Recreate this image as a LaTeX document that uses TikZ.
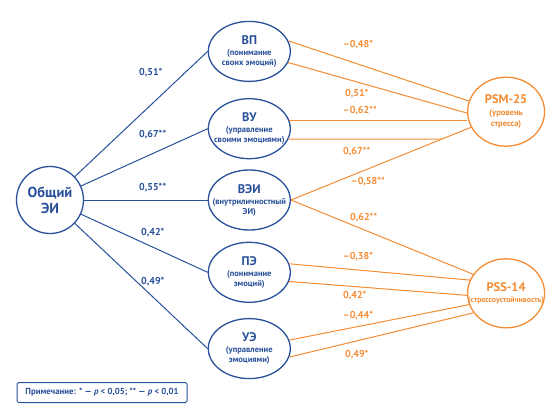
\documentclass[tikz,border=0pt]{standalone}
\usepackage{fontspec}
\setmainfont{PT Sans}
\usetikzlibrary{positioning,shapes.geometric,intersections}

\definecolor{eiblue}{RGB}{40,80,155}
\definecolor{psorange}{RGB}{244,140,52}

\newcommand{\ellhead}[1]{{\fontsize{12.5}{14}\selectfont #1}}

\tikzset{
  ei_circle/.style={circle, draw=eiblue, line width=1.3pt, text=eiblue, fill=white,
    minimum size=67pt, inner sep=1pt, align=center,
    font=\bfseries\fontsize{14.5}{16}\selectfont},
  ei_ell/.style={ellipse, draw=eiblue, line width=1.3pt, text=eiblue, fill=white,
    minimum width=82pt, minimum height=60pt, inner xsep=-42pt, inner ysep=0pt,
    align=center, font=\bfseries\fontsize{8.5}{10}\selectfont},
  ps_ell/.style={ellipse, draw=psorange, line width=1.3pt, text=psorange, fill=white,
    minimum width=77pt, minimum height=69pt, inner xsep=-42pt, inner ysep=0pt,
    align=center, font=\bfseries\fontsize{8.5}{11}\selectfont},
  ei_edge/.style={draw=eiblue, line width=1pt},
  ps_edge/.style={draw=psorange, line width=1pt},
  ei_label/.style={text=eiblue, anchor=west, inner sep=0pt, font=\bfseries\fontsize{10}{11}\selectfont},
  ps_label/.style={text=psorange, anchor=west, inner sep=0pt, font=\bfseries\fontsize{10}{11}\selectfont},
  notebox/.style={draw=eiblue, line width=1pt, rounded corners=1.5pt, text=eiblue,
    minimum width=170pt, minimum height=20pt, inner sep=2pt,
    font=\bfseries\fontsize{8.8}{10}\selectfont}
}

\begin{document}
\begin{tikzpicture}[x=1pt,y=1pt]

  \useasboundingbox (0,0) rectangle (560,-420);

  \node[ei_circle] (GEI) at (50,-200) {Общий\\ЭИ};

  \node[ei_ell, right=123.5pt of GEI] (VEI) {\ellhead{ВЭИ}\\[1pt](внутриличностный\\ЭИ)};
  \node[ei_ell, above=10pt of VEI] (VU) {\ellhead{ВУ}\\[1pt](управление\\своими эмоциями)};
  \node[ei_ell, above=16pt of VU] (VP) {\ellhead{ВП}\\[1pt](понимание\\своих эмоций)};
  \node[ei_ell, below=11pt of VEI] (PE) {\ellhead{ПЭ}\\[1pt](понимание\\эмоций)};
  \node[ei_ell, below=15pt of PE] (UE) {\ellhead{УЭ}\\[1pt](управление\\эмоциями)};

  %==================================================

  \node[ps_ell, right=176pt of VU, yshift=17pt] (PSM) {\ellhead{PSM-25}\\[1.5pt](уровень\\стресса)};
  \node[ps_ell, right=176pt of PE, yshift=-21pt] (PSS) {\ellhead{PSS-14}\\[0pt]{\fontsize{7.8}{10}\selectfont(стрессоустойчивость)}};

  \node[notebox] (note) at (102,-392.5) {Примечание: * — \textit{p} < 0,05; ** — \textit{p} < 0,01};

  %==================================================

  \node[ei_label] (w_vp) at (139,-73) {0,51*};
  \node[ei_label] (w_vu) at (139,-135) {0,67**};
  \node[ei_label] (w_vei) at (139,-188) {0,55**};
  \node[ei_label] (w_pe) at (141,-233) {0,42*};
  \node[ei_label] (w_ue) at (141,-282) {0,49*};

  \node[ps_label] (r_vp1) at (343,-45) {–0,48*};
  \node[ps_label] (r_vp2) at (345,-94) {0,51*};
  \node[ps_label] (r_vu1) at (343,-110.5) {–0,62**};
  \node[ps_label] (r_vu2) at (343,-152) {0,67**};
  \node[ps_label] (r_vei1) at (351,-182) {–0,58**};
  \node[ps_label] (r_vei2) at (350,-218) {0,62**};
  \node[ps_label] (r_pe1) at (343,-257) {–0,38*};
  \node[ps_label] (r_pe2) at (343,-296) {0,42*};
  \node[ps_label] (r_ue1) at (343,-316) {–0,44*};
  \node[ps_label] (r_ue2) at (345,-354.5) {0,49*};

  %==================================================

  \draw[ei_edge] (GEI) -- (VP.west);
  \draw[ei_edge] (GEI) -- (VU.west);
  \draw[ei_edge] (GEI) -- (VEI.west);
  \draw[ei_edge] (GEI) -- (PE.west);
  \draw[ei_edge] (GEI) -- (UE.west);

  \path[name path=vei_psm] (VEI.east) -- (PSM.204);
  \path[name path=vu_low] (VU.-15) -- +(200,0);
  \path[name intersections={of=vei_psm and vu_low, by=vu_join}];

  \draw[ps_edge] (VP.15) -- (PSM.164);
  \draw[ps_edge] (VP.-16) -- (PSM.182);
  \draw[ps_edge] (VU.12) -- (VU.12 -| PSM.west);
  \draw[ps_edge] (VU.-15) -- (vu_join);
  \draw[ps_edge] (VEI.east) -- (PSM.204);
  \draw[ps_edge] (VEI.east) -- (PSS.150);
  \draw[ps_edge] (PE.12) -- (PSS.160);
  \draw[ps_edge] (PE.-13) -- (PSS.183);
  \draw[ps_edge] (UE.12) -- (PSS.197);
  \draw[ps_edge] (UE.-12) -- (PSS.211);

\end{tikzpicture}
\end{document}
